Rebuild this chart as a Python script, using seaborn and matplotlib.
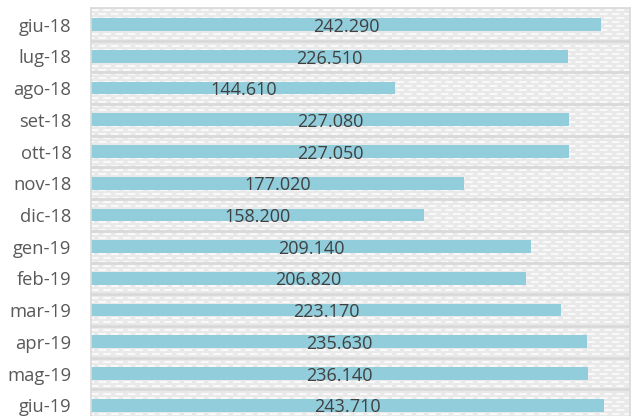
import matplotlib

matplotlib.use("Agg")
import numpy as np
import pandas as pd
import matplotlib.pyplot as plt
import seaborn as sns

# data
months = [
    "giu-18", "lug-18", "ago-18", "set-18", "ott-18", "nov-18", "dic-18",
    "gen-19", "feb-19", "mar-19", "apr-19", "mag-19", "giu-19",
]
values = [
    242290, 226510, 144610, 227080, 227050, 177020, 158200,
    209140, 206820, 223170, 235630, 236140, 243710,
]

df = pd.DataFrame({"mese": months, "valore": values})

sns.set_theme(style="white")
plt.rcParams["font.family"] = ["Open Sans", "DejaVu Sans"]

fig = plt.figure(figsize=(6.32, 4.16), dpi=100)
ax = fig.add_axes([91 / 632, 0.0, (630 - 91) / 632, (416 - 8) / 416])

# patterned background: light grey with staggered white dashes
ax.set_facecolor("#E9E9E9")
y_top, y_bot = -0.527, 12.34
step = 4 / 31.7
for k, yy in enumerate(np.arange(y_top + step / 2, y_bot, step)):
    ax.axhline(yy, color="white", lw=1.1, zorder=0,
               linestyle=(3 * (k % 2), (5, 3)))
for yy in np.arange(0.5, 12.5, 1.0):
    ax.axhline(yy, color="#D9D9D9", lw=2.0, zorder=0.5)

sns.barplot(data=df, y="mese", x="valore", orient="h", color="#92CDDC",
            width=0.4, saturation=1, linewidth=0, ax=ax, zorder=2)

labels = [f"{v:,}".replace(",", ".") for v in values]
texts = ax.bar_label(ax.containers[0], labels=labels, label_type="center",
                     fontsize=13, color="#404040")
for t in texts:
    t.xyann = (0, -1.5)

ax.set_xlim(0, 256000)
ax.set_ylim(y_bot, y_top)
ax.set_xlabel("")
ax.set_ylabel("")
ax.set_xticks([])
ax.tick_params(axis="y", length=0, pad=14, labelsize=13.2, labelcolor="#595959")
for s in ax.spines.values():
    s.set_color("#D9D9D9")
    s.set_linewidth(1.2)
ax.spines["bottom"].set_visible(False)

fig.savefig("out.png", dpi=100)
